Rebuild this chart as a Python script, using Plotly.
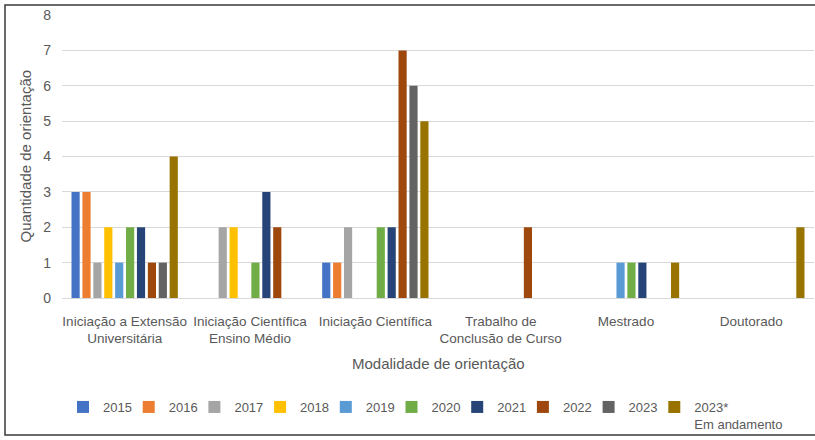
import plotly.graph_objects as go

categories = [
    "Iniciação a Extensão<br>Universitária",
    "Iniciação Científica<br>Ensino Médio",
    "Iniciação Científica",
    "Trabalho de<br>Conclusão de Curso",
    "Mestrado",
    "Doutorado",
]

series_names = ["2015", "2016", "2017", "2018", "2019", "2020", "2021", "2022", "2023",
                "2023*<br>Em andamento"]

v2015 = [3, 0, 1, 0, 0, 0]
v2016 = [3, 0, 1, 0, 0, 0]
v2017 = [1, 2, 2, 0, 0, 0]
v2018 = [2, 2, 0, 0, 0, 0]
v2019 = [1, 0, 0, 0, 1, 0]
v2020 = [2, 1, 2, 0, 1, 0]
v2021 = [2, 3, 2, 0, 1, 0]
v2022 = [1, 2, 7, 2, 0, 0]
v2023 = [1, 0, 6, 0, 0, 0]
v2023_and = [4, 0, 5, 0, 1, 2]

series_values = [v2015, v2016, v2017, v2018, v2019, v2020, v2021, v2022, v2023, v2023_and]
colors = ["#4472C4", "#ED7D31", "#A5A5A5", "#FFC000", "#5B9BD5", "#70AD47",
          "#264478", "#9E480E", "#636363", "#997300"]

FONT = "Liberation Sans, Arial, sans-serif"
GREY = "#595959"

L, R, T, B = 62, 1, 15, 142
W, H = 815, 440
pw, ph = W - L - R, H - T - B
STEP = 65.7          # legend entry pitch in px
LEG_X0 = 63          # legend left edge in px
LEG_TOP = 392        # legend top in px

# first 9 entries share a fixed-pitch legend; the two-line last one gets its own
legend_of = ["legend"] * 9 + ["legend2"]

fig = go.Figure()
for name, vals, col, lg in zip(series_names, series_values, colors, legend_of):
    fig.add_trace(go.Bar(x=categories, y=vals, name=name, marker_color=col,
                         marker_line_width=0, legend=lg))
# invisible spacer entry so the fixed-pitch legend does not clip its last label
fig.add_trace(go.Scatter(x=[None], y=[None], name=" ", mode="markers",
                         marker=dict(opacity=0), legend="legend", hoverinfo="skip",
                         showlegend=True))

leg_common = dict(
    orientation="h", xanchor="left", xref="container", yref="container",
    y=1 - LEG_TOP / H, yanchor="top", bgcolor="rgba(0,0,0,0)",
    valign="top", font=dict(size=13, color=GREY), itemwidth=30,
)

fig.update_layout(
    width=W, height=H,
    margin=dict(l=L, r=R, t=T, b=B),
    paper_bgcolor="white", plot_bgcolor="white",
    barmode="group", bargap=0.13, bargroupgap=0.25,
    font=dict(family=FONT, size=13, color=GREY),
    xaxis=dict(
        showgrid=False, showline=False, ticks="", zeroline=False,
        tickangle=0, automargin=False, ticklabelstandoff=13,
        tickfont=dict(size=13.5, color=GREY),
    ),
    yaxis=dict(
        range=[0, 8], dtick=1, showgrid=True, gridcolor="#D9D9D9", gridwidth=1,
        zeroline=True, zerolinecolor="#D9D9D9", zerolinewidth=1,
        showline=False, ticks="", automargin=False, ticklabelstandoff=10,
        tickfont=dict(size=14, color=GREY),
    ),
    legend=dict(leg_common, x=LEG_X0 / W, entrywidth=STEP - 45, entrywidthmode="pixels",
                traceorder="normal"),
    legend2=dict(leg_common, x=(LEG_X0 + 9 * STEP) / W),
    showlegend=True,
)

# axis titles
fig.add_annotation(text="Quantidade de orientação", textangle=-90,
                   xref="paper", yref="paper", x=(25 - L) / pw, y=0.5,
                   xanchor="center", yanchor="middle",
                   showarrow=False, font=dict(size=15, color=GREY))
fig.add_annotation(text="Modalidade de orientação",
                   xref="paper", yref="paper", x=0.5, y=-(364 - (T + ph)) / ph,
                   xanchor="center", yanchor="middle", showarrow=False,
                   font=dict(size=15, color=GREY))

fig.add_shape(type="rect", xref="paper", yref="paper",
              x0=(5 - L) / pw, x1=(818 - L) / pw,
              y0=-(435 - (T + ph)) / ph, y1=1 + (T - 5) / ph,
              line=dict(color="#3a3a3a", width=1.5), fillcolor="rgba(0,0,0,0)", layer="below")

fig.write_html("out.html")
